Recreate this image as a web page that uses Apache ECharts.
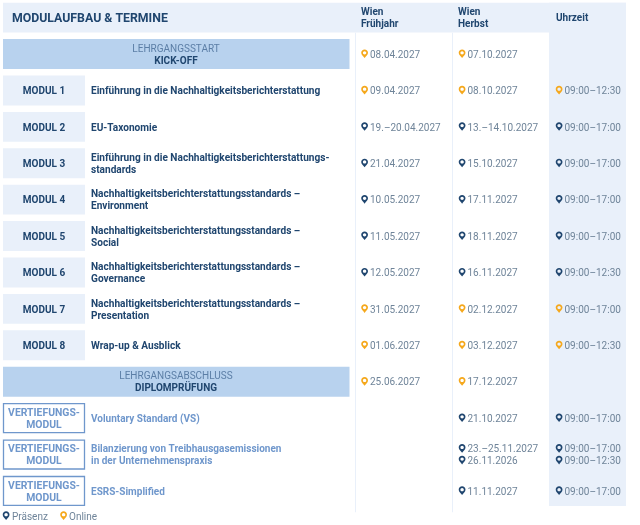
<!DOCTYPE html>
<html><head><meta charset="utf-8">
<style>html,body{margin:0;padding:0;background:#fff}#c{width:640px;height:525px}</style>
<script src="https://cdn.jsdelivr.net/npm/echarts@6/dist/echarts.min.js"></script></head>
<body><div id="c"></div>
<script>
const rowKeys = ['head','kick','m1','m2','m3','m4','m5','m6','m7','m8','dipl','v1','v2','v3'];
const headerTitle = 'MODULAUFBAU & TERMINE';
const columnHeads = ['Wien\nFrühjahr','Wien\nHerbst','Uhrzeit'];
const moduleLabels = ['MODUL 1','MODUL 2','MODUL 3','MODUL 4','MODUL 5','MODUL 6','MODUL 7','MODUL 8'];
const moduleTitles = ['Einführung in die Nachhaltigkeitsberichterstattung','EU-Taxonomie','Einführung in die Nachhaltigkeitsberichterstattungs-\nstandards','Nachhaltigkeitsberichterstattungsstandards –\nEnvironment','Nachhaltigkeitsberichterstattungsstandards –\nSocial','Nachhaltigkeitsberichterstattungsstandards –\nGovernance','Nachhaltigkeitsberichterstattungsstandards –\nPresentation','Wrap-up & Ausblick'];
const bannerTop = ['LEHRGANGSSTART','LEHRGANGSABSCHLUSS'];
const bannerBottom = ['KICK-OFF','DIPLOMPRÜFUNG'];
const deepLabels = ['VERTIEFUNGS-\nMODUL','VERTIEFUNGS-\nMODUL','VERTIEFUNGS-\nMODUL'];
const deepTitles = ['Voluntary Standard (VS)','Bilanzierung von Treibhausgasemissionen\nin der Unternehmenspraxis','ESRS-Simplified'];
const fruehjahr = ['08.04.2027','09.04.2027','19.–20.04.2027','21.04.2027','10.05.2027','11.05.2027','12.05.2027','31.05.2027','01.06.2027','25.06.2027','','',''];
const fruehjahrMode = ['O','O','P','P','P','P','P','O','O','O','','',''];
const herbst = ['07.10.2027','08.10.2027','13.–14.10.2027','15.10.2027','17.11.2027','18.11.2027','16.11.2027','02.12.2027','03.12.2027','17.12.2027','21.10.2027','23.–25.11.2027\n26.11.2026','11.11.2027'];
const herbstMode = ['O','O','P','P','P','P','P','O','O','O','P','PP','P'];
const uhrzeit = ['','09:00–12:30','09:00–17:00','09:00–17:00','09:00–17:00','09:00–17:00','09:00–12:30','09:00–17:00','09:00–12:30','','09:00–17:00','09:00–17:00\n09:00–12:30','09:00–17:00'];
const uhrzeitMode = ['','O','P','P','P','P','P','O','O','','P','PP','P'];
const legendItems = ['Präsenz','Online'];

const NAVY='#20466f', GREY='#6f8499', PALE='#e9f0fa', BANNER='#b8d2ee', DEEP='#6f97cc', ORANGE='#f5a81c', BANNERTXT='#5b7ea6';
const FONT='Roboto';
const PIN='M5 0C2.2 0 0 2.2 0 5C0 8 3.2 10.5 5 13C6.8 10.5 10 8 10 5C10 2.2 7.8 0 5 0ZM5 2.6C6.4 2.6 7.5 3.7 7.5 5C7.5 6.4 6.4 7.5 5 7.5C3.6 7.5 2.5 6.4 2.5 5C2.5 3.7 3.6 2.6 5 2.6Z';

function rect(api,x0,x1,r0,r1,style,pad){
  const h=api.size([0,1])[1];
  const a=api.coord([x0,r0]), b=api.coord([x1,r1]);
  return {type:'rect',shape:{x:a[0],y:a[1]-h/2+pad-0.6,width:b[0]-a[0],height:b[1]-a[1]+h-2*pad},style};
}
function text(api,x,r,str,o){
  const p=api.coord([x,r]);
  return {type:'text',x:p[0],y:p[1]+(o.dy||0)+0.6,style:{text:str,font:(o.weight||'normal')+' '+o.size+'px '+FONT,fill:o.color,align:o.align||'left',verticalAlign:'middle',lineHeight:o.lh||12}};
}
function pin(api,x,r,dy,color){
  const p=api.coord([x,r]);
  return {type:'path',shape:{pathData:PIN,x:p[0]-3.3,y:p[1]+dy-5.2,width:6.8,height:8.6,layout:'cover'},style:{fill:color}};
}
function dateCell(api,x,r,str,modes){
  if(!str) return [];
  const lines=str.split('\n'), out=[];
  lines.forEach((l,i)=>{
    const dy=(i-(lines.length-1)/2)*11.7;
    out.push(pin(api,x,r,dy,modes[i]==='O'?ORANGE:NAVY));
    out.push(text(api,x+5.5,r,l,{size:10,color:GREY,dy:dy}));
  });
  return out;
}
function layer(fn,name){return {type:'custom',name,coordinateSystem:'cartesian2d',silent:true,clip:false,encode:{x:0,y:1},data:[[0,0]],renderItem:(p,api)=>p.dataIndex===0?{type:'group',children:fn(api)}:null};}

const option={
  animation:false,
  grid:{left:0,right:0,top:-1.25,height:511},
  xAxis:{type:'value',min:0,max:640,show:false},
  yAxis:{type:'category',data:rowKeys,inverse:true,show:false},
  series:[
    layer(api=>{
      const c=[];
      c.push(rect(api,3,626,0,0,{fill:PALE},3.25));
      c.push(rect(api,549,626,0,13,{fill:PALE},3.25));
      c.push(rect(api,355,356,1,13,{fill:PALE},-3));
      c.push(rect(api,452,453,1,13,{fill:PALE},-3));
      [1,10].forEach(r=>c.push(rect(api,3,349.5,r,r,{fill:BANNER},3.25)));
      moduleLabels.forEach((_,i)=>c.push(rect(api,3,85,i+2,i+2,{fill:PALE},3.25)));
      deepLabels.forEach((_,i)=>c.push(rect(api,3.5,84.5,i+11,i+11,{fill:'#fff',stroke:DEEP,lineWidth:1.3},3.75)));
      return c;
    },'cells'),
    layer(api=>{
      const c=[];
      c.push(text(api,12,0,headerTitle,{size:12.3,weight:'bold',color:NAVY}));
      [361,458,556].forEach((x,i)=>c.push(text(api,x,0,columnHeads[i],{size:10,weight:'bold',color:NAVY})));
      [[1,0],[10,1]].forEach(([r,i])=>{
        c.push(text(api,176,r,bannerTop[i],{size:10,color:BANNERTXT,align:'center',dy:-6}));
        c.push(text(api,176,r,bannerBottom[i],{size:10,weight:'bold',color:NAVY,align:'center',dy:6}));
      });
      moduleLabels.forEach((t,i)=>{
        c.push(text(api,44,i+2,t,{size:10,weight:'bold',color:NAVY,align:'center'}));
        c.push(text(api,91,i+2,moduleTitles[i],{size:10.1,weight:'bold',color:NAVY}));
      });
      deepLabels.forEach((t,i)=>{
        c.push(text(api,44,i+11,t,{size:10.4,weight:'bold',color:DEEP,align:'center'}));
        c.push(text(api,91,i+11,deepTitles[i],{size:10,weight:'bold',color:DEEP}));
      });
      return c;
    },'texts'),
    layer(api=>{
      let c=[];
      fruehjahr.forEach((d,i)=>{c=c.concat(dateCell(api,364.5,i+1,d,fruehjahrMode[i]));});
      herbst.forEach((d,i)=>{c=c.concat(dateCell(api,462,i+1,d,herbstMode[i]));});
      uhrzeit.forEach((d,i)=>{c=c.concat(dateCell(api,559,i+1,d,uhrzeitMode[i]));});
      return c;
    },'dates'),
    layer(api=>{
      const c=[];
      c.push(pin(api,6,13,25,NAVY)); c.push(text(api,12,13,legendItems[0],{size:10,color:GREY,dy:25}));
      c.push(pin(api,63.5,13,25,ORANGE)); c.push(text(api,69,13,legendItems[1],{size:10,color:GREY,dy:25}));
      return c;
    },'legend')
  ]
};
echarts.init(document.getElementById('c'),null,{renderer:'canvas'}).setOption(option);
</script></body></html>
